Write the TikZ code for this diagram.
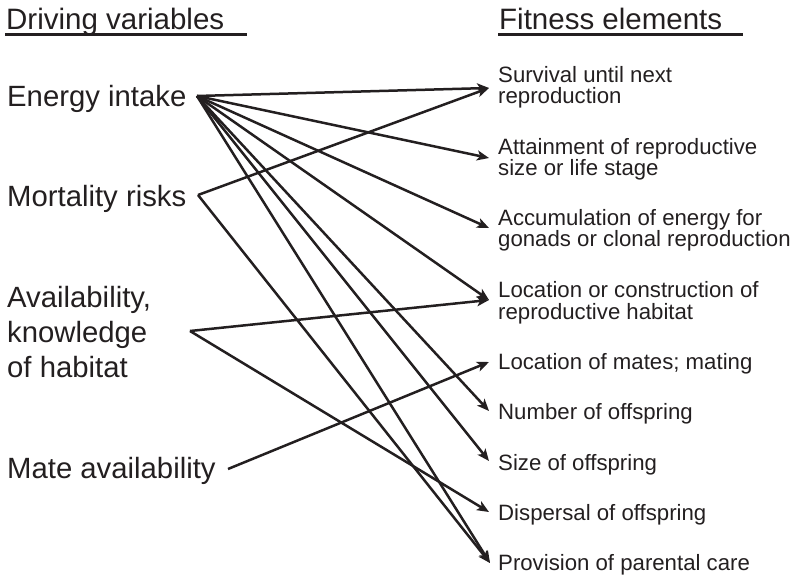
\documentclass[tikz,border=0pt]{standalone}
\usepackage{fontspec}
\setmainfont{Liberation Sans}
\usetikzlibrary{arrows.meta}
\definecolor{ink}{HTML}{231F20}
\begin{document}
\begin{tikzpicture}[x=1pt,y=-1pt,
  head/.style={anchor=base west, inner sep=0pt, font=\fontsize{29.5}{34}\selectfont, text=ink},
  lab/.style={anchor=base west, inner sep=0pt, font=\fontsize{29.3}{35}\selectfont, align=left, text=ink},
  fitn/.style={anchor=base west, inner sep=0pt, font=\fontsize{22.2}{21}\selectfont, align=left, text=ink},
  conn/.style={line width=2.5pt, draw=ink, -{Stealth[length=12pt,width=10pt,inset=3pt]}},
  uline/.style={line width=3pt, draw=ink}]
\useasboundingbox (0,0) rectangle (796,575);
% headings
\node[head] (hd) at (6,30) {Driving variables};
\node[head] (hf) at (499,30) {Fitness elements};
\coordinate (ud1) at (5,35); \coordinate (ud2) at (247,35);
\coordinate (uf1) at (498,35); \coordinate (uf2) at (743,35);
\draw[uline] (ud1) -- (ud2);
\draw[uline] (uf1) -- (uf2);
% left labels
\node[lab] (le) at (7,107) {Energy intake};
\node[lab] (lm) at (7,207) {Mortality risks};
\node[lab] (la) at (7,377) {Availability,\\knowledge\\of habitat};
\node[lab] (lma) at (7,478) {Mate availability};
% right labels
\node[fitn] (r1) at (498,104) {Survival until next\\reproduction};
\node[fitn] (r2) at (498,176) {Attainment of reproductive\\size or life stage};
\node[fitn] (r3) at (498,247) {Accumulation of energy for\\gonads or clonal reproduction};
\node[fitn] (r4) at (498,319) {Location or construction of\\reproductive habitat};
\node[fitn] (r5) at (498,369) {Location of mates; mating};
\node[fitn] (r6) at (498,419) {Number of offspring};
\node[fitn] (r7) at (498,470) {Size of offspring};
\node[fitn] (r8) at (498,520) {Dispersal of offspring};
\node[fitn] (r9) at (498,570) {Provision of parental care};
% connection points
\coordinate (E) at (197,96);
\coordinate (M) at (198,195);
\coordinate (A) at (190,331);
\coordinate (Ma) at (228,469);
\coordinate (t1) at (489,88);
\coordinate (t2) at (489,158);
\coordinate (t3) at (489,228);
\coordinate (t4) at (489,300);
\coordinate (t5) at (489,362);
\coordinate (t6) at (489,411);
\coordinate (t7) at (489,461);
\coordinate (t8) at (489,512);
\coordinate (t9) at (490,563);
% connectors
\foreach \t in {t1,t2,t3,t4,t6,t7,t9} \draw[conn] (E) -- (\t);
\draw[conn] (M) -- (t1);
\draw[conn] (M) -- (t9);
\draw[conn] (A) -- (t4);
\draw[conn] (A) -- (t8);
\draw[conn] (Ma) -- (t5);
\end{tikzpicture}
\end{document}
